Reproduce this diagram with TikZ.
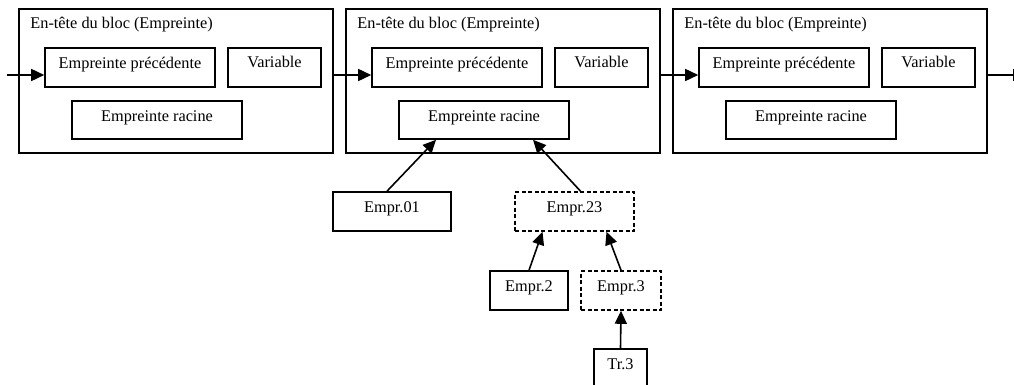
\documentclass[tikz,border=0pt]{standalone}
\usepackage{fontspec}
\setmainfont{Liberation Serif}
\usetikzlibrary{arrows.meta,calc}
\tikzset{
	box/.style={draw, line width=1.6pt, inner sep=0pt, text height=0.7em, text depth=0.45em},
	blockbox/.style={draw, line width=1.6pt, minimum width=314pt, minimum height=144pt},
	dashbox/.style={box, dash pattern=on 4pt off 2.5pt},
	link/.style={line width=1.6pt, -{Triangle[length=13pt,width=12pt]}}
}

\begin{document}
\begin{tikzpicture}[x=1pt, y=-1pt, font=\fontsize{16.3}{19}\selectfont]
		\useasboundingbox (0,0) rectangle (1014,385);
		% three blocks of the chain
		\foreach \i/\x in {1/19, 2/346, 3/673} {
			\node[blockbox] (blk\i) at (\x+157, 81) {};
			\node[anchor=base west, inner sep=0pt] (hd\i) at ([xshift=12pt, yshift=-20pt]blk\i.north west) {En-tête du bloc (Empreinte)};
			\node[box, minimum width=170pt, minimum height=39pt] (ep\i) at (\x+111, 67.5) {Empreinte précédente};
			\node[box, minimum width=93pt, minimum height=39pt, text depth=0.75em] (var\i) at (\x+255.5, 67.5) {Variable};
			\node[box, minimum width=170pt, minimum height=38pt] (rac\i) at (\x+138, 120) {Empreinte racine};
		}
		\coordinate (in) at (7, 75);
		\coordinate (out) at (1026, 75);
		\draw[link] (in) -- (in -| ep1.west);
		\foreach \i/\j in {1/2, 2/3}
			\draw[link] ([yshift=6pt]blk\i.east) -- ([yshift=6pt]blk\i.east -| ep\j.west);
		\draw[link] ([yshift=6pt]blk3.east) -- (out);
		% merkle tree under block 2
		\node[box, minimum width=118pt, minimum height=39pt] (e01) at (392, 211.5) {Empr.01};
		\node[dashbox, minimum width=119pt, minimum height=39pt] (e23) at (574.5, 211.5) {Empr.23};
		\node[box, minimum width=78pt, minimum height=39pt] (e2) at (529, 290.5) {Empr.2};
		\node[dashbox, minimum width=80pt, minimum height=39pt] (e3) at (621, 290.5) {Empr.3};
		\node[box, minimum width=53pt, minimum height=38pt] (tr3) at (620.5, 368) {Tr.3};
		\draw[link] ([xshift=-5pt]e01.north) -- ([xshift=-48pt]rac2.south);
		\draw[link] ([xshift=6pt]e23.north) -- ([xshift=49pt]rac2.south);
		\draw[link] (e2.north) -- ([xshift=-32pt]e23.south);
		\draw[link] (e3.north) -- ([xshift=32pt]e23.south);
		\draw[link] (tr3.north) -- (e3.south);
	\end{tikzpicture}
\end{document}
